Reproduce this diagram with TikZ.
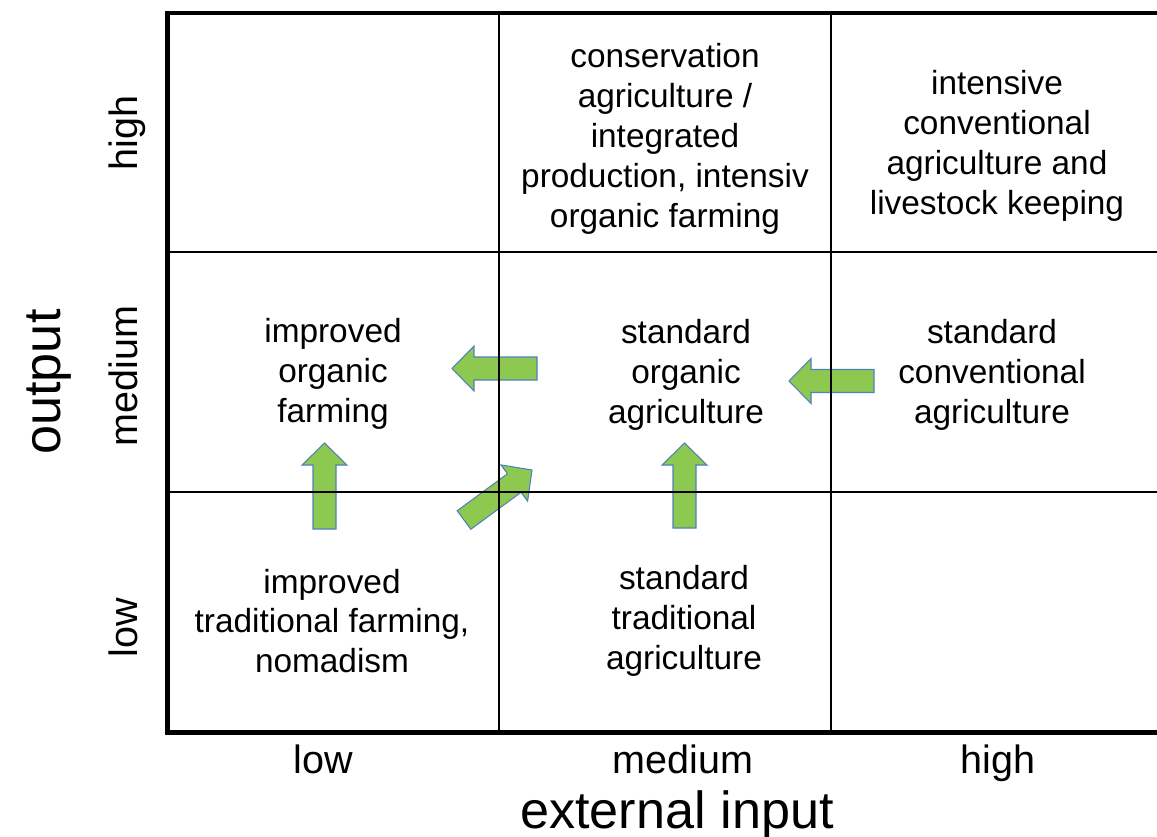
\documentclass[tikz,border=0pt]{standalone}
\usepackage{fontspec}
\setmainfont{Liberation Sans}
\usetikzlibrary{calc}

\definecolor{arrowgreen}{RGB}{141,200,80}
\definecolor{arrowline}{RGB}{79,129,189}

% block arrow from tail #1 to tip #2
\newcommand{\blockarrow}[2]{%
  \coordinate (h) at ($(#2)!0.44cm!(#1)$);
  \draw[arrowbox] ($(#1)!0.23cm!-90:(#2)$) -- ($(h)!0.23cm!-90:(#2)$)
    -- ($(h)!0.45cm!-90:(#2)$) -- (#2) -- ($(h)!0.45cm!90:(#2)$)
    -- ($(h)!0.23cm!90:(#2)$) -- ($(#1)!0.23cm!90:(#2)$) -- cycle;}

\begin{document}
\begin{tikzpicture}[x=0.02cm, y=-0.02cm,
    cell/.style={align=center, font=\fontsize{19}{22.7}\selectfont},
    ticklabel/.style={anchor=base, font=\fontsize{22.5}{27}\selectfont},
    axistitle/.style={anchor=base, font=\fontsize{29.7}{35}\selectfont},
    outerline/.style={line width=2.8pt, line join=miter},
    gridline/.style={line width=0.9pt},
    arrowbox/.style={fill=arrowgreen, draw=arrowline, line width=0.6pt}]
    \useasboundingbox (0,0) rectangle (1157,836);

    \node (consv) [cell] at (665,139) {conservation\\agriculture /\\integrated\\production, intensiv\\organic farming};
    \node (convint) [cell] at (997,146) {intensive\\conventional\\agriculture and\\livestock keeping};
    \node (orgimp) [cell] at (333,374) {improved\\organic\\farming};
    \node (orgstd) [cell] at (686,375) {standard\\organic\\agriculture};
    \node (convstd) [cell] at (992,375) {standard\\conventional\\agriculture};
    \node (tradimp) [cell] at (332,621) {improved\\traditional farming,\\nomadism};
    \node (tradstd) [cell] at (684,621) {standard\\traditional\\agriculture};

    \node (xlow) [ticklabel] at (323,773) {low};
    \node (xmed) [ticklabel] at (683,773) {medium};
    \node (xhigh) [ticklabel] at (998,773) {high};
    \node (yhigh) [ticklabel, rotate=90] at (137,133) {high};
    \node (ymed) [ticklabel, rotate=90] at (137,376) {medium};
    \node (ylow) [ticklabel, rotate=90] at (137,628) {low};
    \node (xtitle) [axistitle] at (677,828) {external input};
    \node (ytitle) [axistitle, rotate=90] at (60,382) {output};

    % arrows
    \coordinate (a1t) at (537,368.5);
    \coordinate (a1h) at (452,368.5);
    \coordinate (a2t) at (324.5,529);
    \coordinate (a2h) at (324.5,443);
    \coordinate (a3t) at (464,520);
    \coordinate (a3h) at (532,470);
    \coordinate (a4t) at (684.5,528);
    \coordinate (a4h) at (684.5,443);
    \coordinate (a5t) at (874,381);
    \coordinate (a5h) at (789,381);
    \blockarrow{a1t}{a1h}
    \blockarrow{a2t}{a2h}
    \blockarrow{a3t}{a3h}
    \blockarrow{a4t}{a4h}
    \blockarrow{a5t}{a5h}

    \draw[gridline] (499,13) -- (499,732);
    \draw[gridline] (831,13) -- (831,732);
    \draw[gridline] (167,252) -- (1157,252);
    \draw[gridline] (167,492) -- (1157,492);
    \draw[outerline] (1157,13) -- (167.5,13) -- (167.5,732.5) -- (1157,732.5);
\end{tikzpicture}
\end{document}
